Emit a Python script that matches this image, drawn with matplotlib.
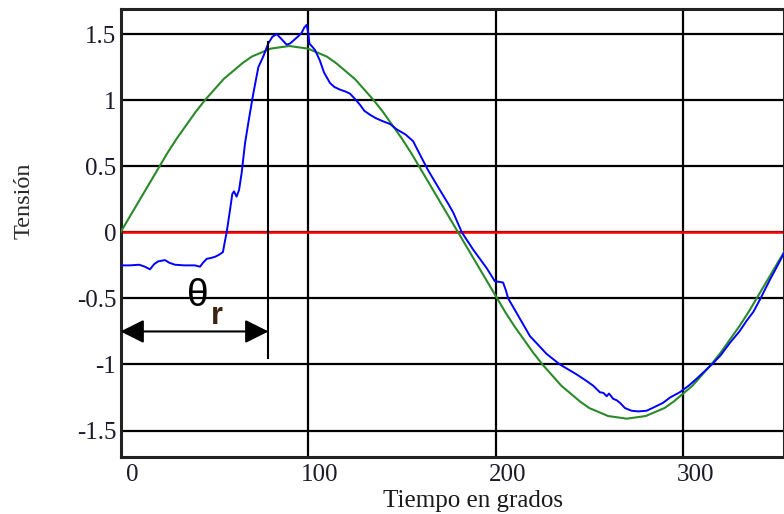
import numpy as np
import matplotlib
matplotlib.use('Agg')
import matplotlib.pyplot as plt
import matplotlib.transforms as mtransforms

# green: reference sine (read every 5 degrees)
green_x = [0, 5, 10, 15, 20, 25, 30, 35, 40, 45, 50, 55, 60, 65, 70, 75, 80, 85, 90,
           95, 100, 105, 110, 115, 120, 125, 130, 135, 140, 145, 150, 155, 160, 165, 170, 175, 180,
           185, 190, 195, 200, 205, 210, 215, 220, 225, 230, 235, 240, 245, 250, 255, 260, 265, 270,
           275, 280, 285, 290, 295, 300, 305, 310, 315, 320, 325, 330, 335, 340, 345, 350, 355, 360]
green_y = [0.00, 0.12, 0.24, 0.36, 0.48, 0.60, 0.71, 0.81, 0.91, 1.00, 1.08, 1.16, 1.22, 1.28, 1.33, 1.36, 1.39, 1.40, 1.41,
           1.40, 1.39, 1.36, 1.33, 1.28, 1.22, 1.16, 1.08, 1.00, 0.91, 0.81, 0.71, 0.60, 0.48, 0.36, 0.24, 0.12, 0.00,
           -0.12, -0.24, -0.36, -0.48, -0.60, -0.71, -0.81, -0.91, -1.00, -1.08, -1.16, -1.22, -1.28, -1.33, -1.36, -1.39, -1.40, -1.41,
           -1.40, -1.39, -1.36, -1.33, -1.28, -1.22, -1.16, -1.08, -1.00, -0.91, -0.81, -0.71, -0.60, -0.48, -0.36, -0.24, -0.12, 0.00]

# blue: measured signal
blue_x = [0, 5, 10, 13, 15.7, 18, 20, 23.7, 26, 29, 34, 39.7, 42.4, 44, 46, 48, 50.4, 52.5, 54.6, 55.5,
          56.6, 58.4, 59.6, 60.5, 61.9, 63.2, 64.6, 66.4, 68.7, 70.8, 73.5, 76.1, 78.8, 81, 83.3, 86, 88.6,
          90.5, 92.1, 94.5, 96.6, 98, 99.3, 100.2, 100.7, 103.7, 106.3, 108.5, 111.7, 114, 117, 120, 122.3,
          125, 127.7, 130, 133, 136, 140, 143.7, 147.2, 152, 156, 159.6, 164, 170.3, 175, 177.4, 182, 188,
          195.2, 199.6, 202, 204, 205.5, 206.7, 211.2, 218.3, 227.2, 234.3, 243.2, 248, 252, 255.6, 257.5,
          259.2, 260.5, 262.7, 264.5, 266.3, 269, 272.5, 276, 280.5, 285, 289.3, 293, 298.2, 303, 307, 316,
          320, 325, 330, 333.8, 337.5, 340.9, 346.2, 350, 353.3, 356]
blue_y = [-0.25, -0.25, -0.245, -0.26, -0.28, -0.24, -0.22, -0.21, -0.23, -0.245, -0.25, -0.25, -0.26, -0.23,
          -0.2, -0.195, -0.185, -0.17, -0.15, -0.08, 0.0, 0.17, 0.29, 0.31, 0.27, 0.32, 0.45, 0.675, 0.876,
          1.05, 1.25, 1.33, 1.43, 1.48, 1.50, 1.46, 1.42, 1.43, 1.45, 1.48, 1.51, 1.55, 1.57, 1.50, 1.43,
          1.38, 1.30, 1.21, 1.13, 1.10, 1.08, 1.065, 1.05, 1.01, 0.965, 0.92, 0.89, 0.865, 0.84, 0.82, 0.78,
          0.74, 0.69, 0.59, 0.47, 0.32, 0.21, 0.15, 0.0, -0.13, -0.27, -0.37, -0.375, -0.38, -0.44, -0.50,
          -0.61, -0.785, -0.92, -1.0, -1.075, -1.12, -1.16, -1.21, -1.215, -1.24, -1.22, -1.26, -1.27, -1.29,
          -1.33, -1.35, -1.355, -1.35, -1.32, -1.29, -1.25, -1.21, -1.16, -1.11, -0.99, -0.93, -0.835, -0.75,
          -0.67, -0.60, -0.51, -0.36, -0.26, -0.17, -0.10]

x_ticks = [0, 100, 200, 300]
y_ticks = [-1.5, -1, -0.5, 0, 0.5, 1, 1.5]
y_labels = ['-1.5', '-1', '-0.5', '0', '0.5', '1', '1.5']

theta_r = 78.9  # firing angle marker

fig = plt.figure(figsize=(7.84, 5.14), dpi=100)
ax = fig.add_axes([120.5/784, 1-457/514, 663/784, 448/514])

ax.set_xlim(0, 353.5)
ax.set_ylim(-1.70, 1.69)

ax.set_xticks(x_ticks)
ax.set_xticklabels([str(v) for v in x_ticks])
ax.set_yticks(y_ticks)
ax.set_yticklabels(y_labels)
ax.tick_params(length=0, labelsize=18)
ax.tick_params(axis='y', pad=3)
ax.tick_params(axis='x', pad=5)
for lab in ax.get_xticklabels() + ax.get_yticklabels():
    lab.set_family('Liberation Serif')
    lab.set_color('#1a1a2a')
# x labels sit a bit right of their grid lines
offset = mtransforms.ScaledTranslation(0.12, 0, fig.dpi_scale_trans)
for lab in ax.get_xticklabels():
    lab.set_transform(lab.get_transform() + offset)

ax.grid(True, color='black', lw=1.6, zorder=0)
ax.set_axisbelow(True)
for s in ax.spines.values():
    s.set_linewidth(2.2)
    s.set_color('#222222')

ax.axhline(0, color='#ff0000', lw=1.8, zorder=2)
ax.plot(green_x, green_y, color='#2a8a2a', lw=1.5, zorder=3)
ax.plot(blue_x, blue_y, color='#0000ff', lw=1.4, zorder=4)

# theta_r marker
ax.plot([theta_r, theta_r], [-0.95, 1.44], color='black', lw=1.5, zorder=5)
ax.annotate('', xy=(0, -0.75), xytext=(theta_r, -0.75),
            arrowprops=dict(arrowstyle='<|-|>,head_length=0.8,head_width=0.4', mutation_scale=18,
                            color='black', lw=1.5, shrinkA=0, shrinkB=0), zorder=5)
ax.text(41.3, -0.48, 'θ', fontsize=28, family='Liberation Sans', ha='center', va='center', zorder=6)
ax.text(51.3, -0.63, 'r', fontsize=22, family='Liberation Sans', fontweight='bold',
        color='#3a2410', ha='center', va='center', zorder=6)

fig.text(24/784, 1-201/514, 'Tensión', rotation=90, fontsize=17.5, family='Liberation Serif',
         ha='center', va='center', color='#2a2a2a')
fig.text(473/784, 1-501/514, 'Tiempo en grados', fontsize=18, family='Liberation Serif',
         ha='center', va='center', color='#1a1a1a')

fig.savefig('out.png', dpi=100)
